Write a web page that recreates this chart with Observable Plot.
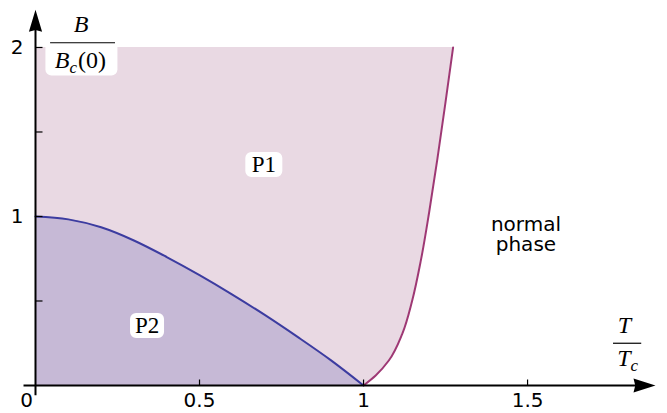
<!DOCTYPE html>
<html><head><meta charset="utf-8">
<script src="https://cdn.jsdelivr.net/npm/d3@7"></script>
<script src="https://cdn.jsdelivr.net/npm/@observablehq/plot@0.6"></script>
<style>body{margin:0;background:#fff} #chart{width:667px;height:413px}</style>
</head><body><div id="chart"></div>
<script>
// Lower boundary (P2 / P1), B/Bc(0) vs T/Tc
const lowerT = [0, 0.1, 0.2, 0.3, 0.4, 0.5, 0.6, 0.7, 0.8, 0.9, 1];
const lowerB = [1, 0.983, 0.936, 0.858, 0.76, 0.653, 0.538, 0.416, 0.286, 0.15, 0];
// Upper boundary (P1 / normal phase)
const upperT = [1, 1.037, 1.077, 1.118, 1.148, 1.175, 1.2, 1.225, 1.25, 1.273];
const upperB = [0, 0.059, 0.148, 0.306, 0.5, 0.743, 1.025, 1.34, 1.678, 2.0];
// axes
const xTicks = [0.5, 1, 1.5];
const yTicks = [0.5, 1, 1.5, 2];
const xLabelValues = [0, 0.5, 1, 1.5];
const xLabelText = ["0", "0.5", "1", "1.5"];
const yLabelValues = [1, 2];
const yLabelText = ["1", "2"];
const axisXExtent = [-0.035, 1.89];
const axisYExtent = [-0.06, 2.223];
// region labels
const regionNames = ["P1", "P2"];
const regionT = [0.696, 0.340];
const regionB = [1.308, 0.355];
const phaseText = "normal\nphase";
const phaseT = 1.495, phaseB = 0.89;
// axis titles (fractions)
const yNum = {text: "B", T: 0.139, B: 2.139};
const yDen = {text: "B_c(0)", T: 0.137, B: 1.923};
const yBar = {B: 2.028, T1: 0.046, T2: 0.244};
const yBox = {T: 0.140, B: 1.941};
const xNum = {text: "T", T: 1.795, B: 0.358};
const xDen = {text: "T_c", T: 1.805, B: 0.158};
const xBar = {B: 0.25, T1: 1.762, T2: 1.848};

const lower = lowerT.map((T, i) => ({T, B: lowerB[i]}));
const upper = upperT.map((T, i) => ({T, B: upperB[i]}));
const regions = regionNames.map((name, i) => ({name, T: regionT[i], B: regionB[i]}));

const len = size => Math.sqrt(size / Math.PI);
const tickUp = {draw(ctx, size) { const l = len(size); ctx.moveTo(0, 0); ctx.lineTo(0, -l); }};
const tickRight = {draw(ctx, size) { const l = len(size); ctx.moveTo(0, 0); ctx.lineTo(l, 0); }};
const headRight = {draw(ctx, size) { const l = len(size); ctx.moveTo(0, 0); ctx.lineTo(-l, -l * 0.32); ctx.lineTo(-l * 0.92, 0); ctx.lineTo(-l, l * 0.32); ctx.closePath(); }};
const headUp = {draw(ctx, size) { const l = len(size); ctx.moveTo(0, 0); ctx.lineTo(-l * 0.3, l); ctx.lineTo(0, l * 0.92); ctx.lineTo(l * 0.3, l); ctx.closePath(); }};
function roundBox(w, h, r) {
  return {draw(ctx) {
    const x0 = -w / 2, y0 = -h / 2, x1 = w / 2, y1 = h / 2;
    ctx.moveTo(x0 + r, y0); ctx.lineTo(x1 - r, y0); ctx.arcTo(x1, y0, x1, y0 + r, r);
    ctx.lineTo(x1, y1 - r); ctx.arcTo(x1, y1, x1 - r, y1, r);
    ctx.lineTo(x0 + r, y1); ctx.arcTo(x0, y1, x0, y1 - r, r);
    ctx.lineTo(x0, y0 + r); ctx.arcTo(x0, y0, x0 + r, y0, r); ctx.closePath();
  }};
}

const sans = "DejaVu Sans";
const serif = "Liberation Serif";

const plot = Plot.plot({
  width: 667, height: 413,
  marginTop: 0, marginBottom: 0, marginLeft: 0, marginRight: 0,
  x: {domain: [0, 1.89], range: [35, 655], axis: null},
  y: {domain: [0, 2.22], range: [385, 9.8], axis: null},
  style: {background: "white"},
  marks: [
    Plot.areaX(upper, {x: "T", y: "B", fill: "#e9d9e3", curve: "monotone-y"}),
    Plot.areaY(lower, {x: "T", y: "B", fill: "#c6b9d6", curve: "monotone-x"}),
    Plot.line(lower, {x: "T", y: "B", stroke: "#3c3ca0", strokeWidth: 2, curve: "monotone-x"}),
    Plot.line(upper, {x: "T", y: "B", stroke: "#9e3874", strokeWidth: 2, curve: "monotone-y"}),
    // axes
    Plot.ruleY([0], {x1: axisXExtent[0], x2: axisXExtent[1] - 0.03, stroke: "black", strokeWidth: 2}),
    Plot.ruleX([0], {y1: axisYExtent[0], y2: axisYExtent[1] - 0.05, stroke: "black", strokeWidth: 2}),
    Plot.dot([axisXExtent[1]], {x: d => d, y: 0, symbol: headRight, r: 22, fill: "black", stroke: "none"}),
    Plot.dot([axisYExtent[1]], {x: 0, y: d => d, symbol: headUp, r: 22, fill: "black", stroke: "none"}),
    Plot.dot(xTicks, {x: d => d, y: 0, symbol: tickUp, r: 6, stroke: "black", strokeWidth: 1.2, fill: "none"}),
    Plot.dot(yTicks, {x: 0, y: d => d, symbol: tickRight, r: 7, stroke: "black", strokeWidth: 1.2, fill: "none"}),
    Plot.text(xLabelValues.slice(1), {x: d => d, y: 0, text: (d, i) => xLabelText[i + 1], dy: 15, fontSize: 20, fontFamily: sans, fill: "black"}),
    Plot.text(xLabelValues.slice(0, 1), {x: d => d, y: 0, text: (d, i) => xLabelText[i], dy: 15, dx: -9, fontSize: 20, fontFamily: sans, fill: "black"}),
    Plot.text(yLabelValues, {x: 0, y: d => d, text: (d, i) => yLabelText[i], dx: -12, textAnchor: "end", fontSize: 20, fontFamily: sans, fill: "black"}),
    // region labels
    Plot.dot(regions.slice(0, 1), {x: "T", y: "B", symbol: roundBox(37, 25, 6), fill: "white", stroke: "none"}),
    Plot.dot(regions.slice(1), {x: "T", y: "B", symbol: roundBox(34, 25, 6), fill: "white", stroke: "none"}),
    Plot.text(regions, {x: "T", y: "B", text: "name", fontSize: 23, fontFamily: serif, fill: "black"}),
    Plot.text([phaseText], {x: phaseT, y: phaseB, text: d => d, fontSize: 20, lineHeight: 1, fontFamily: sans, fill: "black"}),
    // y axis title
    Plot.dot([yBox], {x: "T", y: "B", symbol: roundBox(72, 36, 6), fill: "white", stroke: "none"}),
    Plot.text([yNum, yDen], {x: "T", y: "B", text: "text", fontSize: 24, fontFamily: serif, fontStyle: "italic", fill: "black"}),
    Plot.ruleY([yBar], {y: "B", x1: "T1", x2: "T2", stroke: "black", strokeWidth: 1.2}),
    // x axis title
    Plot.text([xNum, xDen], {x: "T", y: "B", text: "text", fontSize: 24, fontFamily: serif, fontStyle: "italic", fill: "black"}),
    Plot.ruleY([xBar], {y: "B", x1: "T1", x2: "T2", stroke: "black", strokeWidth: 1.2})
  ]
});

// turn "X_c" into subscript
d3.select(plot).selectAll("text").filter(function() { return this.children.length === 0 && /_c/.test(this.textContent); }).each(function() {
  const [base, rest] = this.textContent.split("_c");
  const t = d3.select(this);
  t.text(null);
  t.append("tspan").text(base);
  t.append("tspan").attr("font-size", "17px").attr("dy", "5").text("c");
  if (rest) t.append("tspan").attr("dy", "-5").attr("dx", "1").attr("font-style", "normal").text(rest);
});

document.getElementById("chart").appendChild(plot);
</script>
</body></html>
